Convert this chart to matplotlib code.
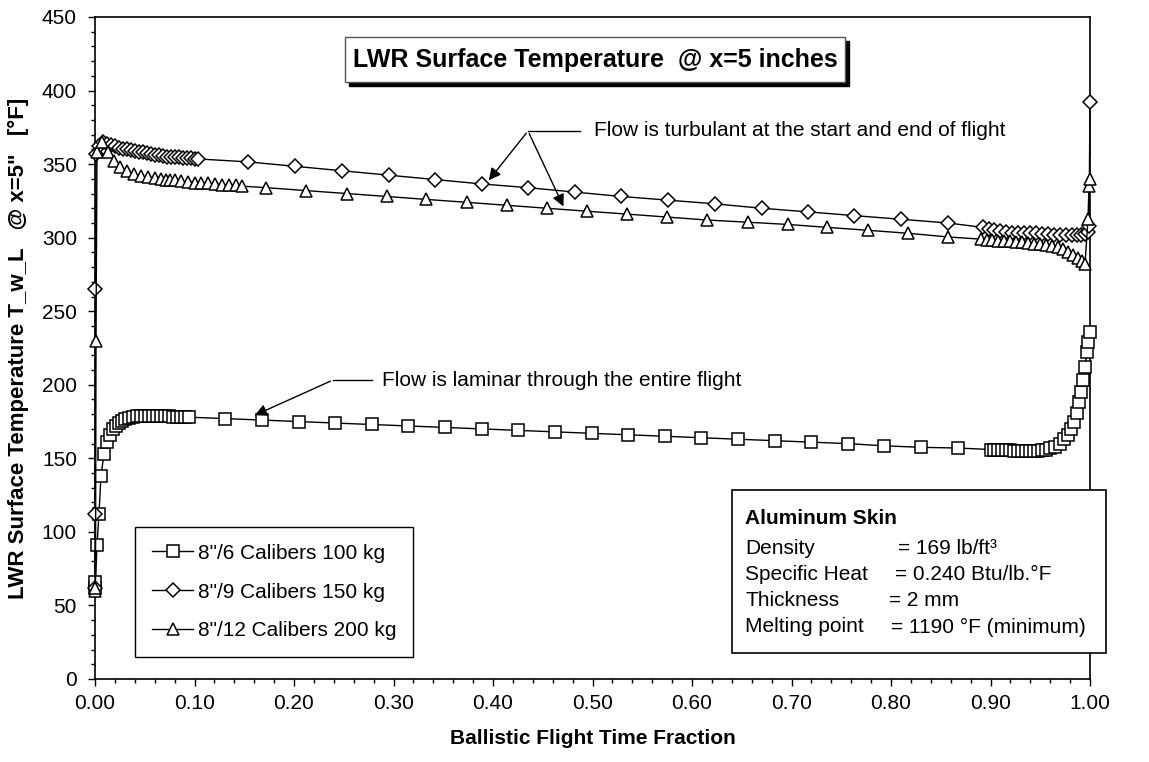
import matplotlib
matplotlib.use("Agg")
import matplotlib.pyplot as plt
from matplotlib.patches import Rectangle
from matplotlib.ticker import MultipleLocator, FormatStrFormatter

plt.rcParams['font.family'] = ['Liberation Sans', 'DejaVu Sans']

# ----- Data -----
frac_100 = [0.000, 0.0005, 0.002, 0.004, 0.006, 0.009, 0.012, 0.015, 0.018, 0.021, 0.024, 0.027, 0.030,
            0.034, 0.038, 0.042, 0.046, 0.050, 0.054, 0.058, 0.062, 0.066, 0.070, 0.074, 0.078, 0.082,
            0.086, 0.090, 0.094,
            0.131, 0.168, 0.205, 0.241, 0.278, 0.315, 0.352, 0.389, 0.425, 0.462, 0.499, 0.536, 0.573,
            0.609, 0.646, 0.683, 0.720, 0.757, 0.793, 0.830, 0.867,
            0.900, 0.904, 0.908, 0.912, 0.916, 0.920, 0.924, 0.928, 0.932, 0.936, 0.940, 0.944, 0.948,
            0.952, 0.956, 0.960,
            0.965, 0.970, 0.974, 0.978, 0.981, 0.984, 0.987, 0.989, 0.991, 0.993, 0.995, 0.997, 0.998, 1.000]
temp_100 = [62, 66, 91, 112, 138, 153, 161, 166, 170, 172, 174, 175.5, 176.5,
            177.5, 178, 178.5, 179, 179, 179, 179, 179, 179, 178.8, 178.6, 178.4, 178.2,
            178, 178, 178,
            177, 176, 175, 174, 173, 172, 171, 170, 169, 168, 167, 166, 165,
            164, 163, 162, 161, 160, 158.5, 157.5, 157,
            156, 156, 155.8, 155.6, 155.5, 155.4, 155.3, 155.2, 155.1, 155, 155, 155, 155.2,
            155.5, 156, 157,
            158, 160, 163, 166, 170, 175, 181, 188, 195, 203, 212, 222, 229, 236]

frac_150 = [0.000, 0.000, 0.0005, 0.001, 0.004, 0.008,
            0.012, 0.016, 0.020, 0.024, 0.028, 0.032, 0.036, 0.040, 0.044, 0.048, 0.052, 0.056,
            0.060, 0.064, 0.068, 0.072, 0.076, 0.080, 0.084, 0.088, 0.092, 0.096, 0.100, 0.104,
            0.154, 0.201, 0.248, 0.295, 0.342, 0.389, 0.435, 0.482, 0.529, 0.576, 0.623, 0.670,
            0.717, 0.763, 0.810, 0.857,
            0.892, 0.898, 0.904, 0.910, 0.916, 0.922, 0.928, 0.934, 0.940, 0.946, 0.952, 0.958,
            0.964, 0.970, 0.976, 0.982, 0.987, 0.991, 0.995, 0.998, 0.999, 1.000]
temp_150 = [62, 112, 265, 357, 362, 365,
            364, 363, 362, 361, 360.5, 360, 359.5, 359, 358.5, 358, 357.5, 357,
            356.5, 356, 355.5, 355, 355, 354.5, 354.5, 354, 354, 354, 353.5, 353.5,
            351.5, 348.5, 345.5, 342.5, 339.5, 336.5, 334, 331, 328, 325.5, 323, 320,
            317.5, 315, 312.5, 310,
            307, 306, 305, 304.5, 304, 303.5, 303.5, 303, 303, 303, 302.5, 302.5,
            302, 302, 302, 302, 302, 302, 302.5, 304, 308, 392]

frac_200 = [0.000, 0.0005, 0.001, 0.002, 0.007, 0.013, 0.019, 0.025, 0.032, 0.039, 0.046, 0.053,
            0.060, 0.066, 0.071, 0.075, 0.080, 0.086, 0.093, 0.100, 0.107, 0.114, 0.121, 0.128,
            0.135, 0.142, 0.148,
            0.172, 0.212, 0.253, 0.293, 0.333, 0.374, 0.414, 0.454, 0.494, 0.535, 0.575, 0.615,
            0.656, 0.696, 0.736, 0.777, 0.817, 0.857,
            0.890, 0.896, 0.902, 0.908, 0.914, 0.920, 0.926, 0.932, 0.938, 0.944, 0.950, 0.956,
            0.962, 0.968, 0.973, 0.978, 0.983, 0.988, 0.992, 0.995, 0.998, 0.999, 1.000]
temp_200 = [60, 62, 230, 358, 365, 358, 352, 348, 345, 343, 342, 341,
            340.5, 340, 339.5, 339.5, 339, 338.5, 338, 337.5, 337, 337, 336.5, 336,
            336, 335.5, 335,
            334, 332, 330, 328, 326, 324, 322, 320, 318, 316, 314, 312,
            310.5, 309, 307, 305, 303, 300.5,
            299, 298.5, 298.5, 298, 298, 297.5, 297, 297, 296.5, 296, 295.5, 295,
            294.5, 293.5, 292, 290, 288, 286, 284, 282, 313, 335, 340]

series_labels = ['8"/6 Calibers 100 kg', '8"/9 Calibers 150 kg', '8"/12 Calibers 200 kg']
series_markers = ['s', 'D', '^']

skin_names = ['Density', 'Specific Heat', 'Thickness', 'Melting point']
skin_values = ['= 169 lb/ft\u00b3', '= 0.240 Btu/lb.\u00b0F', '= 2 mm', '= 1190 \u00b0F (minimum)']

# ----- Figure -----
W, H = 1149, 762
AX_L, AX_R, AX_T, AX_B = 95, 1090, 17, 679
fig = plt.figure(figsize=(W / 100, H / 100), dpi=100)
ax = fig.add_axes([AX_L / W, (H - AX_B) / H, (AX_R - AX_L) / W, (AX_B - AX_T) / H])


def fpx(px, py):
    # figure pixel (from top-left) -> figure fraction
    return px / W, 1 - py / H


def dxy(px, py):
    # figure pixel -> data coords of the axes
    return (px - AX_L) / (AX_R - AX_L), (AX_B - py) / (AX_B - AX_T) * 450


msizes = [8, 7, 9]
for xs, ys, mk, lab, ms in zip([frac_100, frac_150, frac_200], [temp_100, temp_150, temp_200],
                               series_markers, series_labels, msizes):
    ax.plot(xs, ys, color='black', lw=1.0, marker=mk, ms=ms, mfc='white', mec='black', mew=1.1,
            label=lab, clip_on=False, zorder=3)

ax.set_xlim(0, 1)
ax.set_ylim(0, 450)
ax.xaxis.set_major_locator(MultipleLocator(0.1))
ax.xaxis.set_minor_locator(MultipleLocator(0.02))
ax.xaxis.set_major_formatter(FormatStrFormatter('%.2f'))
ax.yaxis.set_major_locator(MultipleLocator(50))
ax.yaxis.set_minor_locator(MultipleLocator(10))
ax.tick_params(which='both', direction='out', labelsize=15, width=1)
ax.tick_params(which='major', length=5)
ax.tick_params(which='minor', length=3)
ax.tick_params(axis='x', pad=6)
ax.tick_params(axis='y', pad=8)
for sp in ax.spines.values():
    sp.set_linewidth(1.2)

ax.set_xlabel('Ballistic Flight Time Fraction', fontsize=15, fontweight='bold', labelpad=11)
ax.set_ylabel('LWR Surface Temperature T_w_L   @ x=5"   [\u00b0F]', fontsize=16,
              fontweight='bold', labelpad=9)

leg = ax.legend(loc='lower left', bbox_to_anchor=(40 / (AX_R - AX_L), 22 / (AX_B - AX_T)),
                borderaxespad=0, fontsize=15, fancybox=False, edgecolor='black', framealpha=1,
                labelspacing=0.95, handlelength=2.0, handletextpad=0.2, borderpad=0.8, numpoints=1)
leg.get_frame().set_linewidth(1.0)

# annotations
base_t = dxy(528, 131)
ax.annotate('', xy=(0.394, 337.5), xytext=base_t,
            arrowprops=dict(arrowstyle='-|>', color='black', lw=1.0, mutation_scale=18))
ax.annotate('', xy=(0.472, 319.5), xytext=base_t,
            arrowprops=dict(arrowstyle='-|>', color='black', lw=1.0, mutation_scale=18))
ax.plot([base_t[0], dxy(580, 0)[0]], [base_t[1], base_t[1]], color='black', lw=1.0)
ax.text(dxy(594, 0)[0], base_t[1], 'Flow is turbulant at the start and end of flight', fontsize=15,
        va='center', ha='left')

base_l = dxy(333, 380)
ax.annotate('', xy=(0.158, 178.5), xytext=base_l,
            arrowprops=dict(arrowstyle='-|>', color='black', lw=1.0, mutation_scale=18))
ax.plot([base_l[0], dxy(372, 0)[0]], [base_l[1], base_l[1]], color='black', lw=1.0)
ax.text(dxy(382, 0)[0], base_l[1], 'Flow is laminar through the entire flight', fontsize=15,
        va='center', ha='left')

# title box with shadow
x0, y0 = fpx(345, 82)
fig.patches.append(Rectangle((x0 + 4 / W, y0 - 4 / H), 500 / W, 45 / H, transform=fig.transFigure,
                             facecolor='black', edgecolor='black', zorder=5))
fig.patches.append(Rectangle((x0, y0), 500 / W, 45 / H, transform=fig.transFigure,
                             facecolor='white', edgecolor='#555555', lw=1.0, zorder=6))
tx, ty = fpx(595, 60)
fig.text(tx, ty, 'LWR Surface Temperature  @ x=5 inches', fontsize=18, fontweight='bold',
         ha='center', va='center', zorder=7)

# material box
bx, by = fpx(732, 653)
fig.patches.append(Rectangle((bx, by), 374 / W, 163 / H, transform=fig.transFigure,
                             facecolor='white', edgecolor='black', lw=1.2, zorder=5))
hx, hy = fpx(745, 518)
fig.text(hx, hy, 'Aluminum Skin', fontsize=15, fontweight='bold', ha='left', va='center', zorder=7)
value_px = [898, 895, 889, 891]
for i, (nm, val) in enumerate(zip(skin_names, skin_values)):
    lx, ly = fpx(745, 549 + 26 * i)
    vx, _ = fpx(value_px[i], 0)
    fig.text(lx, ly, nm, fontsize=15, ha='left', va='center', zorder=7)
    fig.text(vx, ly, val, fontsize=15, ha='left', va='center', zorder=7)

fig.savefig('out.png', dpi=100)
